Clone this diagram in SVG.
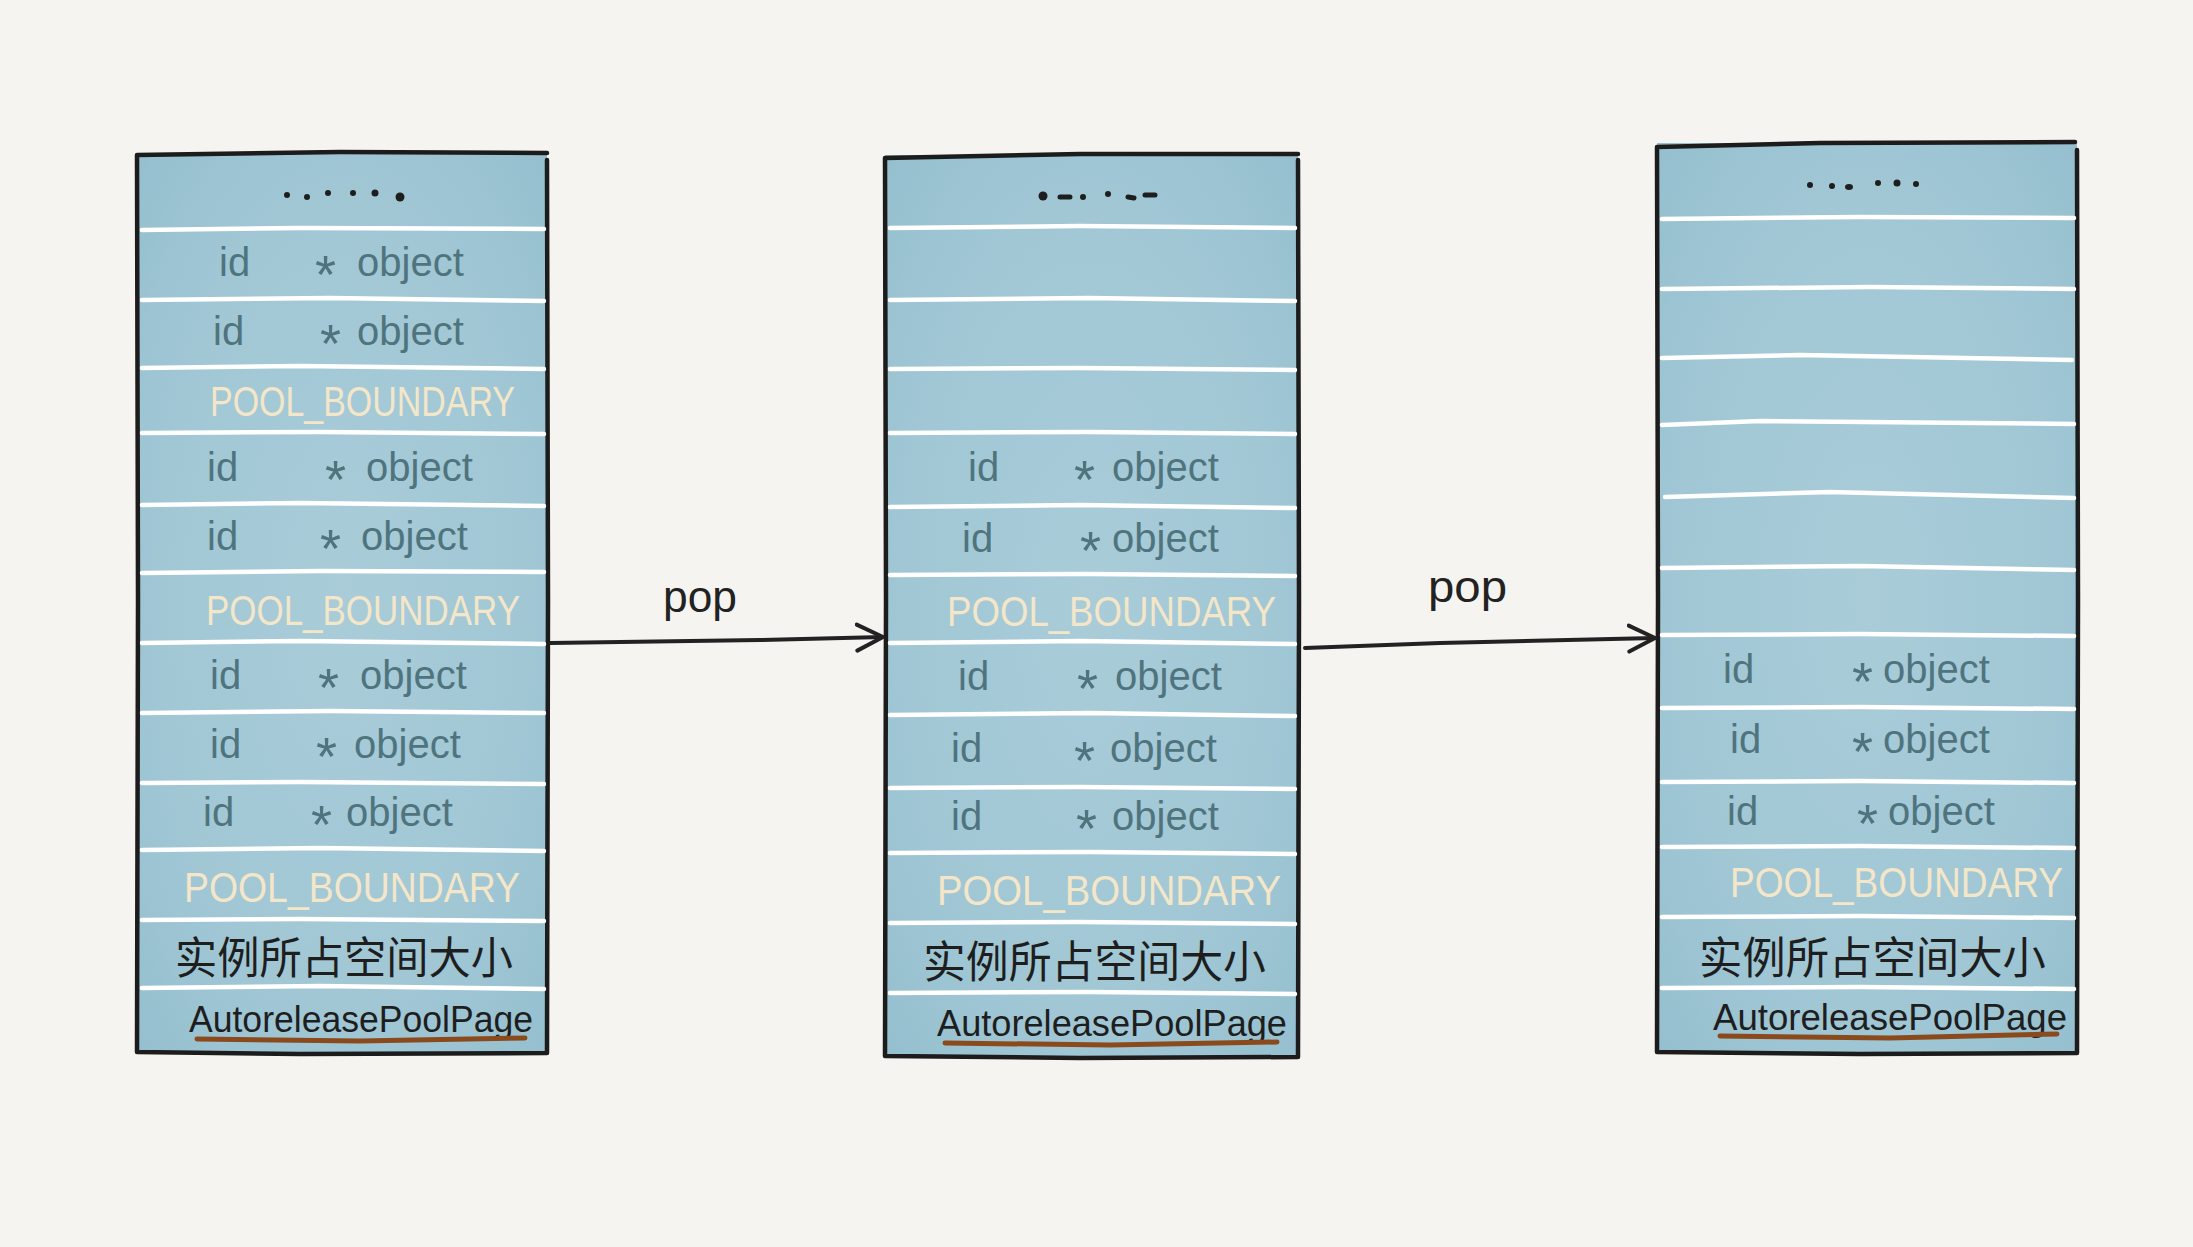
<svg xmlns="http://www.w3.org/2000/svg" width="2193" height="1247" viewBox="0 0 2193 1247">
<defs>
<radialGradient id="wash" cx="0.5" cy="0.5" r="0.75" gradientUnits="objectBoundingBox">
<stop offset="0" stop-color="#a9ccd8"/>
<stop offset="0.6" stop-color="#a1c7d5"/>
<stop offset="1" stop-color="#93bece"/>
</radialGradient>
<marker id="head" markerUnits="userSpaceOnUse" markerWidth="40" markerHeight="40" refX="28" refY="15" orient="auto" viewBox="0 0 40 30">
<path d="M2,2 L28,15 L2,28" fill="none" stroke="#222" stroke-width="4" stroke-linecap="round" stroke-linejoin="round"/>
</marker>
<style>
.box{fill:url(#wash)}
.border{fill:none;stroke:#1c1c1c;stroke-width:4.5;stroke-linejoin:round;stroke-linecap:round}
.sep{fill:none;stroke:#ffffff;stroke-width:4.5;stroke-linecap:round}
.id,.obj{fill:#4f747e;font-family:"Liberation Sans","DejaVu Sans",sans-serif;font-size:40px}
.ast{font-size:54px}
.pb{fill:#f3e6c9;font-family:"Liberation Sans","DejaVu Sans",sans-serif;font-size:42px}
.cn{fill:#1e1e1e;font-family:"Liberation Sans","Noto Sans CJK SC",sans-serif;font-size:44px}
.apl{fill:#1e1e1e;font-family:"Liberation Sans","DejaVu Sans",sans-serif;font-size:36px}
.ul{fill:none;stroke:#8b4a1c;stroke-width:5;stroke-linecap:round}
.dot{fill:#1e1e1e}
.conn{fill:none;stroke:#222;stroke-width:4;stroke-linecap:round}
.pop{fill:#222;font-family:"Liberation Sans","DejaVu Sans",sans-serif;font-size:44px}
</style>
</defs>
<rect width="2193" height="1247" fill="#f5f4f0"/>

<g id="page1">
<rect class="box" x="137" y="153" width="410" height="900"/>
<path class="border" d="M137,155 L340,152 L547,153 M547,160 L548,600 L547,1053 L300,1054 L137,1052 L138,600 L137,155"/>
<g>
<circle class="dot" cx="287" cy="195" r="3"/><circle class="dot" cx="307" cy="197" r="3"/><circle class="dot" cx="328" cy="193" r="3"/><circle class="dot" cx="353" cy="193" r="3"/><circle class="dot" cx="375" cy="193" r="3.5"/><circle class="dot" cx="400" cy="197" r="4.5"/>
</g>
<path class="sep" d="M142,230 L300,228 L544,229"/>
<path class="sep" d="M142,300 L330,298 L544,301"/>
<path class="sep" d="M142,368 L300,366 L544,369"/>
<path class="sep" d="M142,433 L320,432 L544,434"/>
<path class="sep" d="M142,505 L300,503 L544,506"/>
<path class="sep" d="M142,573 L320,571 L544,572"/>
<path class="sep" d="M142,643 L300,641 L544,644"/>
<path class="sep" d="M142,713 L330,711 L544,713"/>
<path class="sep" d="M142,783 L300,782 L544,784"/>
<path class="sep" d="M142,850 L320,848 L544,851"/>
<path class="sep" d="M142,920 L300,919 L544,921"/>
<path class="sep" d="M142,988 L320,986 L544,989"/>
<text class="id" x="219" y="276">id</text><text class="obj" x="315" y="276"><tspan class="ast" dy="17">*</tspan><tspan x="357" dy="-17">object</tspan></text>
<text class="id" x="213" y="345">id</text><text class="obj" x="320" y="345"><tspan class="ast" dy="17">*</tspan><tspan x="357" dy="-17">object</tspan></text>
<text class="pb" x="210" y="416" textLength="305" lengthAdjust="spacingAndGlyphs">POOL_BOUNDARY</text>
<text class="id" x="207" y="481">id</text><text class="obj" x="325" y="481"><tspan class="ast" dy="17">*</tspan><tspan x="366" dy="-17">object</tspan></text>
<text class="id" x="207" y="550">id</text><text class="obj" x="320" y="550"><tspan class="ast" dy="17">*</tspan><tspan x="361" dy="-17">object</tspan></text>
<text class="pb" x="206" y="625" textLength="314" lengthAdjust="spacingAndGlyphs">POOL_BOUNDARY</text>
<text class="id" x="210" y="689">id</text><text class="obj" x="318" y="689"><tspan class="ast" dy="17">*</tspan><tspan x="360" dy="-17">object</tspan></text>
<text class="id" x="210" y="758">id</text><text class="obj" x="316" y="758"><tspan class="ast" dy="17">*</tspan><tspan x="354" dy="-17">object</tspan></text>
<text class="id" x="203" y="826">id</text><text class="obj" x="311" y="826"><tspan class="ast" dy="17">*</tspan><tspan x="346" dy="-17">object</tspan></text>
<text class="pb" x="184" y="902" textLength="336" lengthAdjust="spacingAndGlyphs">POOL_BOUNDARY</text>
<text class="cn" x="175" y="974" textLength="338" lengthAdjust="spacingAndGlyphs">实例所占空间大小</text>
<text class="apl" x="189" y="1032" textLength="344" lengthAdjust="spacingAndGlyphs">AutoreleasePoolPage</text>
<path class="ul" d="M197,1039 L360,1041 L525,1038"/>
</g>

<g id="page2">
<rect class="box" x="885" y="155" width="413" height="902"/>
<path class="border" d="M885,158 L1080,154 L1298,154 M1298,160 L1299,600 L1298,1057 L1080,1058 L885,1056 L886,600 L885,158"/>
<g>
<circle class="dot" cx="1043" cy="196" r="4.5"/>
<path d="M1060,197 L1070,197 M1128,197 L1134,198 M1145,195 L1155,195" stroke="#1e1e1e" stroke-width="5" stroke-linecap="round"/>
<circle class="dot" cx="1083" cy="197" r="3"/><circle class="dot" cx="1108" cy="194" r="3"/>
</g>
<path class="sep" d="M890,228 L1080,226 L1295,228"/>
<path class="sep" d="M890,300 L1090,298 L1295,301"/>
<path class="sep" d="M890,369 L1080,368 L1295,370"/>
<path class="sep" d="M890,433 L1090,432 L1295,434"/>
<path class="sep" d="M890,507 L1080,505 L1295,508"/>
<path class="sep" d="M890,575 L1090,574 L1295,576"/>
<path class="sep" d="M890,643 L1080,641 L1295,644"/>
<path class="sep" d="M890,715 L1090,713 L1295,716"/>
<path class="sep" d="M890,788 L1080,787 L1295,789"/>
<path class="sep" d="M890,853 L1090,852 L1295,854"/>
<path class="sep" d="M890,923 L1080,922 L1295,924"/>
<path class="sep" d="M890,993 L1090,992 L1295,994"/>
<text class="id" x="968" y="481">id</text><text class="obj" x="1074" y="481"><tspan class="ast" dy="17">*</tspan><tspan x="1112" dy="-17">object</tspan></text>
<text class="id" x="962" y="552">id</text><text class="obj" x="1080" y="552"><tspan class="ast" dy="17">*</tspan><tspan x="1112" dy="-17">object</tspan></text>
<text class="pb" x="947" y="626" textLength="329" lengthAdjust="spacingAndGlyphs">POOL_BOUNDARY</text>
<text class="id" x="958" y="690">id</text><text class="obj" x="1077" y="690"><tspan class="ast" dy="17">*</tspan><tspan x="1115" dy="-17">object</tspan></text>
<text class="id" x="951" y="762">id</text><text class="obj" x="1074" y="762"><tspan class="ast" dy="17">*</tspan><tspan x="1110" dy="-17">object</tspan></text>
<text class="id" x="951" y="830">id</text><text class="obj" x="1076" y="830"><tspan class="ast" dy="17">*</tspan><tspan x="1112" dy="-17">object</tspan></text>
<text class="pb" x="937" y="905" textLength="344" lengthAdjust="spacingAndGlyphs">POOL_BOUNDARY</text>
<text class="cn" x="923" y="978" textLength="343" lengthAdjust="spacingAndGlyphs">实例所占空间大小</text>
<text class="apl" x="937" y="1036" textLength="350" lengthAdjust="spacingAndGlyphs">AutoreleasePoolPage</text>
<path class="ul" d="M945,1043 L1110,1045 L1277,1042"/>
</g>

<g id="page3">
<rect class="box" x="1657" y="143" width="420" height="910"/>
<path class="border" d="M1657,147 L1820,143 L2075,142 M2077,150 L2078,600 L2077,1053 L1860,1054 L1657,1052 L1658,600 L1657,147"/>
<g>
<circle class="dot" cx="1810" cy="185" r="3"/><circle class="dot" cx="1832" cy="186" r="3"/><ellipse class="dot" cx="1849" cy="187" rx="4" ry="3"/><circle class="dot" cx="1878" cy="183" r="3"/><circle class="dot" cx="1897" cy="183" r="3.5"/><circle class="dot" cx="1916" cy="184" r="3"/>
</g>
<path class="sep" d="M1662,219 L1860,217 L2074,218"/>
<path class="sep" d="M1662,289 L1870,287 L2074,289"/>
<path class="sep" d="M1662,358 L1800,355 L2072,360"/>
<path class="sep" d="M1662,425 L1760,421 L2074,424"/>
<path class="sep" d="M1665,497 L1830,492 L2074,498"/>
<path class="sep" d="M1662,568 L1860,566 L2074,570"/>
<path class="sep" d="M1662,635 L1860,634 L2074,636"/>
<path class="sep" d="M1662,708 L1860,707 L2074,709"/>
<path class="sep" d="M1662,782 L1860,781 L2074,783"/>
<path class="sep" d="M1662,847 L1860,846 L2074,848"/>
<path class="sep" d="M1662,917 L1860,916 L2074,918"/>
<path class="sep" d="M1662,988 L1860,987 L2074,989"/>
<text class="id" x="1723" y="683">id</text><text class="obj" x="1852" y="683"><tspan class="ast" dy="17">*</tspan><tspan x="1883" dy="-17">object</tspan></text>
<text class="id" x="1730" y="753">id</text><text class="obj" x="1852" y="753"><tspan class="ast" dy="17">*</tspan><tspan x="1883" dy="-17">object</tspan></text>
<text class="id" x="1727" y="825">id</text><text class="obj" x="1857" y="825"><tspan class="ast" dy="17">*</tspan><tspan x="1888" dy="-17">object</tspan></text>
<text class="pb" x="1730" y="897" textLength="333" lengthAdjust="spacingAndGlyphs">POOL_BOUNDARY</text>
<text class="cn" x="1699" y="974" textLength="347" lengthAdjust="spacingAndGlyphs">实例所占空间大小</text>
<text class="apl" x="1713" y="1030" textLength="354" lengthAdjust="spacingAndGlyphs">AutoreleasePoolPage</text>
<path class="ul" d="M1720,1036 L1890,1038 L2057,1034"/>
</g>

<g id="connectors">
<path class="conn" d="M550,643 L760,640 L883,637" marker-end="url(#head)"/>
<text class="pop" x="663" y="612" textLength="74" lengthAdjust="spacingAndGlyphs">pop</text>
<path class="conn" d="M1305,648 L1440,643 L1655,638" marker-end="url(#head)"/>
<text class="pop" x="1428" y="602" textLength="79" lengthAdjust="spacingAndGlyphs">pop</text>
</g>
</svg>
